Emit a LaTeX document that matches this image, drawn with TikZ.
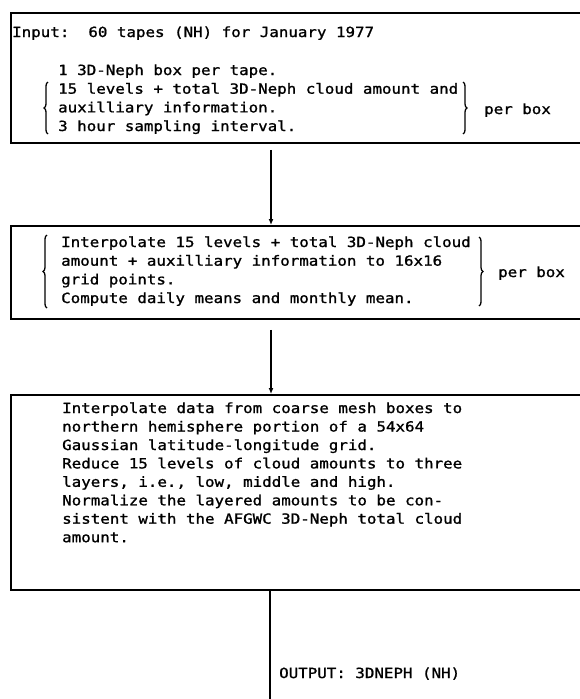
\documentclass[tikz,border=0pt]{standalone}
\usepackage{fontspec}
\setmainfont{DejaVu Sans Mono}[FakeStretch=1.13,FakeBold=1.2]
\usetikzlibrary{arrows.meta,decorations.pathreplacing}
\begin{document}
\begin{tikzpicture}[x=1pt,y=1pt,
  txt/.style={anchor=base west,inner sep=0pt,font=\fontsize{14}{18.7}\selectfont},
  boxshape/.style={draw,line width=1.8pt,inner sep=0pt,anchor=north west,minimum width=576pt},
  arr/.style={line width=2.4pt,-{Latex[length=6pt,width=5pt]}},
  brc/.style={decorate,decoration={brace,amplitude=4pt},line width=1.3pt}]
\useasboundingbox (0,0) rectangle (580,-699);
% boxes
\node[boxshape,minimum height=130pt] (box1) at (10,-12) {};
\node[boxshape,minimum height=93pt] (box2) at (10,-225) {};
\node[boxshape,minimum height=195pt] (box3) at (10,-394) {};
% box 1 text
\node[txt] (b1a) at (12,-37) {Input:\ \ 60 tapes (NH) for January 1977};
\node[txt] (b1b) at (58,-75) {1 3D-Neph box per tape.};
\node[txt] (b1c) at (58,-93.7) {15 levels + total 3D-Neph cloud amount and};
\node[txt] (b1d) at (58,-112.4) {auxilliary information.};
\node[txt] (b1e) at (58,-131) {3 hour sampling interval.};
\node[txt] (b1p) at (484,-114) {per box};
\draw[brc] (48,-134) -- (48,-82);
\draw[brc] (463,-82) -- (463,-134);
% box 2 text
\node[txt] (b2a) at (61,-247) {Interpolate 15 levels + total 3D-Neph cloud};
\node[txt] (b2b) at (61,-265.7) {amount + auxilliary information to 16x16};
\node[txt] (b2c) at (61,-284.4) {grid points.};
\node[txt] (b2d) at (61,-303) {Compute daily means and monthly mean.};
\node[txt] (b2p) at (498,-277) {per box};
\draw[brc] (47,-308) -- (47,-235);
\draw[brc] (479,-237) -- (479,-306);
% box 3 text
\node[txt] (b3a) at (62,-413) {Interpolate data from coarse mesh boxes to};
\node[txt] (b3b) at (62,-431.5) {northern hemisphere portion of a 54x64};
\node[txt] (b3c) at (62,-450) {Gaussian latitude-longitude grid.};
\node[txt] (b3d) at (62,-468.4) {Reduce 15 levels of cloud amounts to three};
\node[txt] (b3e) at (62,-486.8) {layers, i.e., low, middle and high.};
\node[txt] (b3f) at (62,-505.3) {Normalize the layered amounts to be con-};
\node[txt] (b3g) at (62,-523.7) {sistent with the AFGWC 3D-Neph total cloud};
\node[txt] (b3h) at (62,-542.2) {amount.};
% output
\node[txt] (out) at (279,-678) {OUTPUT: 3DNEPH (NH)};
% connectors
\coordinate (ax) at (271,0);
\coordinate (outend) at (270,-702);
\draw[arr,shorten <=6pt] (box1.south -| ax) -- (box2.north -| ax);
\draw[arr,shorten <=10pt] (box2.south -| ax) -- (box3.north -| ax);
\draw[line width=2.2pt] (box3.south -| outend) -- (outend);
\end{tikzpicture}
\end{document}
